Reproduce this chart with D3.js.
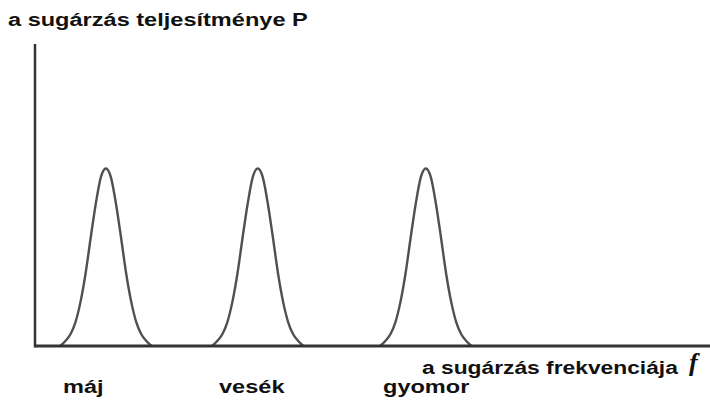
<!DOCTYPE html>
<html><head><meta charset="utf-8">
<script src="https://cdn.jsdelivr.net/npm/d3@7"></script>
<style>body{margin:0;background:#fff}svg{display:block}text{font-family:Arial,"Liberation Sans",sans-serif;font-weight:bold;fill:#111}</style>
</head><body>
<svg id="c" width="710" height="401"></svg>
<script>
// organ labels and peak centre frequencies (arbitrary units)
const organs = ["máj", "vesék", "gyomor"];
const peakCenters = [10.5, 33.0, 57.9];
const peakHeights = [1, 1, 1];
// one-sided peak profile: offsets (units) and relative power
const profileOffsets = [0, 0.75, 1.5, 2.25, 3, 3.75, 4.5, 5.25, 6, 6.75];
const profileValues  = [1, 0.95, 0.8, 0.61, 0.41, 0.25, 0.135, 0.066, 0.028, 0];
const yTitle = "a sugárzás teljesítménye P";
const xTitle = "a sugárzás frekvenciája";
const xSymbol = "f";

const svg = d3.select("#c");
const x = d3.scaleLinear().domain([0, 100]).range([35, 710]);
const y = d3.scaleLinear().domain([0, 1.69]).range([346, 46]);

const line = d3.line().x(d => x(d[0])).y(d => y(d[1])).curve(d3.curveMonotoneX);

peakCenters.forEach((c, i) => {
  const pts = [];
  for (let k = profileOffsets.length - 1; k > 0; k--) pts.push([c - profileOffsets[k], peakHeights[i] * profileValues[k]]);
  for (let k = 0; k < profileOffsets.length; k++) pts.push([c + profileOffsets[k], peakHeights[i] * profileValues[k]]);
  svg.append("path").attr("d", line(pts)).attr("fill", "none")
    .attr("stroke", "#505050").attr("stroke-width", 2.4);
});

// axes
svg.append("line").attr("x1", x(0)).attr("x2", x(0)).attr("y1", 44).attr("y2", y(0) + 1.5)
  .attr("stroke", "#333").attr("stroke-width", 2.5);
svg.append("line").attr("x1", x(0)).attr("x2", x(100)).attr("y1", y(0)).attr("y2", y(0))
  .attr("stroke", "#333").attr("stroke-width", 3);

const fs = 19;
function label(tx, ty, s, sx) {
  svg.append("text").attr("transform", `translate(${tx},${ty}) scale(${sx},1)`)
    .attr("font-size", fs).text(s);
}
label(8, 26, yTitle, 1.24);
label(422, 374, xTitle, 1.2);
svg.append("text").attr("x", 689).attr("y", 371)
  .style("font-family", "'Liberation Serif','DejaVu Serif',serif").style("font-style", "italic")
  .style("font-weight", "bold").attr("font-size", 26).text(xSymbol);

const labelX = [63, 219, 383];
organs.forEach((o, i) => label(labelX[i], 393, o, 1.24));
</script>
</body></html>
